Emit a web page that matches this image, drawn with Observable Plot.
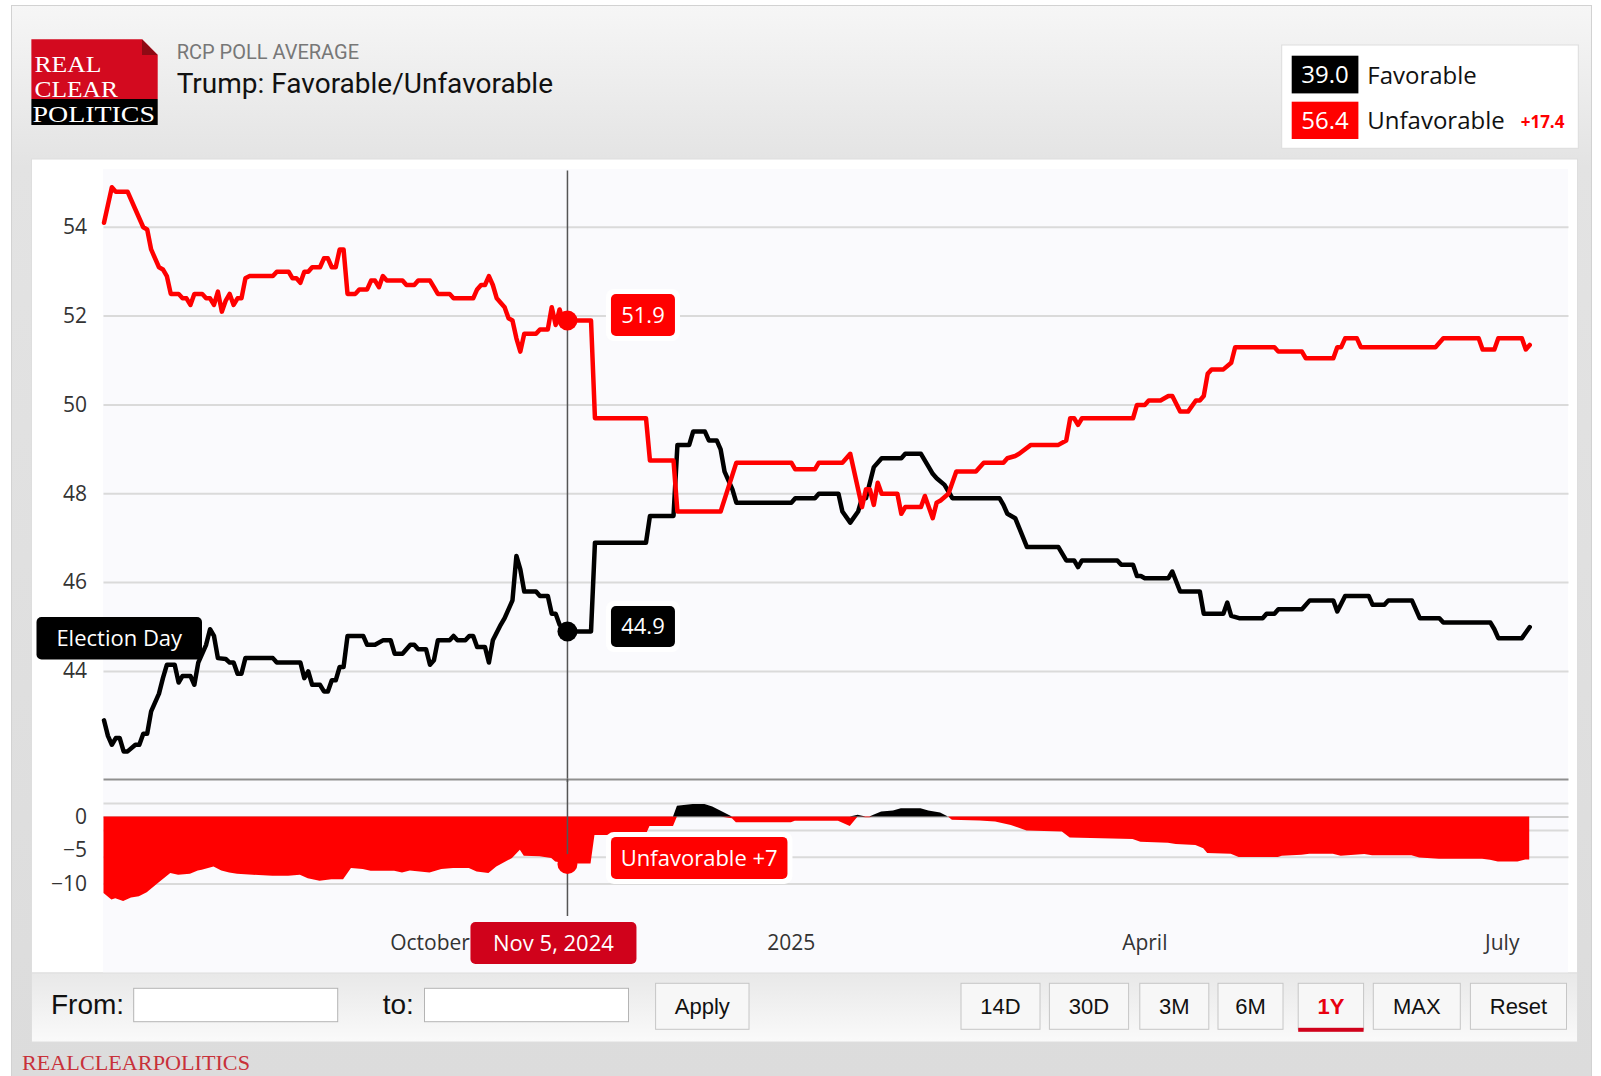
<!DOCTYPE html>
<html><head><meta charset="utf-8">
<script src="https://cdn.jsdelivr.net/npm/d3@7"></script>
<script src="https://cdn.jsdelivr.net/npm/@observablehq/plot@0.6"></script>
<style>
html,body{margin:0;padding:0;background:#fff;}
#page{position:relative;width:1601px;height:1076px;overflow:hidden;}
#page > svg{position:absolute;left:0;top:0;}
.pw{position:absolute;}
.pw svg{overflow:visible;}
</style></head><body><div id="page">
<svg id="chrome" width="1601" height="1076">
  <defs>
    <linearGradient id="gOuter" x1="0" y1="0" x2="0" y2="1">
      <stop offset="0" stop-color="#f6f6f6"/><stop offset="0.15" stop-color="#e3e3e3"/><stop offset="1" stop-color="#dcdcdc"/>
    </linearGradient>
    <linearGradient id="gBar" x1="0" y1="0" x2="0" y2="1">
      <stop offset="0" stop-color="#e8e8e8"/><stop offset="1" stop-color="#fafafa"/>
    </linearGradient>
  </defs>
  <rect x="11.5" y="5.5" width="1580" height="1075" fill="url(#gOuter)" stroke="#d2d2d2"/>
  <rect x="31.5" y="159" width="1546" height="814" fill="#fff" stroke="#dedede"/>
  <rect x="103" y="169" width="1465" height="804" fill="#fafafd"/>
  <rect x="31.5" y="973" width="1546" height="69" fill="url(#gBar)" stroke="#dedede"/>
  <!-- logo -->
  <path d="M31.4,39.3 H142 L157.7,55 V99 H31.4 Z" fill="#d30a1f"/>
  <path d="M142,39.3 L157.7,55 H142 Z" fill="#8e0a14"/>
  <rect x="31.4" y="99" width="126.3" height="26" fill="#000"/>
  <text x="34.4" y="71.7" font-family="Liberation Serif" font-size="24" fill="#fff" textLength="67" lengthAdjust="spacingAndGlyphs">REAL</text>
  <text x="34.4" y="96.7" font-family="Liberation Serif" font-size="24" fill="#fff" textLength="83.5" lengthAdjust="spacingAndGlyphs">CLEAR</text>
  <text x="32.5" y="121.7" font-family="Liberation Serif" font-size="24" fill="#fff" textLength="122.5" lengthAdjust="spacingAndGlyphs">POLITICS</text>
  <!-- header -->
  <text x="176.7" y="59.3" font-family="Roboto" font-size="20" fill="#777">RCP POLL AVERAGE</text>
  <text x="176.7" y="93.3" font-family="Roboto" font-size="28" fill="#111">Trump: Favorable/Unfavorable</text>
  <!-- legend -->
  <rect x="1281.7" y="45" width="296.6" height="103.3" fill="#fff" stroke="#dddddd"/>
  <rect x="1291.7" y="55.7" width="66.7" height="37.7" fill="#000"/>
  <text x="1325" y="83.3" text-anchor="middle" font-family="Open Sans" font-size="24" fill="#fff">39.0</text>
  <text x="1367.3" y="84" font-family="Open Sans" font-size="24" fill="#111">Favorable</text>
  <rect x="1291.7" y="101.7" width="66.7" height="37.3" fill="#ff0000"/>
  <text x="1325" y="129" text-anchor="middle" font-family="Open Sans" font-size="24" fill="#fff">56.4</text>
  <text x="1367.3" y="129" font-family="Open Sans" font-size="24" fill="#111">Unfavorable</text>
  <text x="1520.7" y="127.7" font-family="Open Sans" font-size="17" font-weight="bold" fill="#ff0000">+17.4</text>
  <!-- controls -->
  <text x="51" y="1014" font-family="Liberation Sans" font-size="28" fill="#111">From:</text>
  <rect x="133.7" y="988.3" width="204" height="33.4" fill="#fff" stroke="#b4b4b4"/>
  <text x="382.7" y="1014" font-family="Liberation Sans" font-size="28" fill="#111">to:</text>
  <rect x="424.5" y="988.3" width="204" height="33.4" fill="#fff" stroke="#b4b4b4"/>
  <g font-family="Liberation Sans" font-size="22" text-anchor="middle" fill="#111">
    <rect x="655.6" y="983.3" width="93.4" height="46" fill="#f7f7f7" stroke="#c6c6c6"/>
    <text x="702.3" y="1014">Apply</text>
    <rect x="961" y="983.3" width="79" height="46" fill="#f7f7f7" stroke="#c6c6c6"/>
    <text x="1000.5" y="1014">14D</text>
    <rect x="1049.4" y="983.3" width="79.2" height="46" fill="#f7f7f7" stroke="#c6c6c6"/>
    <text x="1089" y="1014">30D</text>
    <rect x="1139.8" y="983.3" width="69" height="46" fill="#f7f7f7" stroke="#c6c6c6"/>
    <text x="1174.3" y="1014">3M</text>
    <rect x="1218" y="983.3" width="65" height="46" fill="#f7f7f7" stroke="#c6c6c6"/>
    <text x="1250.5" y="1014">6M</text>
    <rect x="1298.2" y="983.3" width="65.4" height="46" fill="#f7f7f7" stroke="#c6c6c6"/>
    <text x="1330.9" y="1014" fill="#e8000f" font-weight="bold">1Y</text>
    <rect x="1298.2" y="1027.8" width="65.4" height="4" fill="#d0021b"/>
    <rect x="1373.3" y="983.3" width="87" height="46" fill="#f7f7f7" stroke="#c6c6c6"/>
    <text x="1416.8" y="1014">MAX</text>
    <rect x="1470.4" y="983.3" width="96.1" height="46" fill="#f7f7f7" stroke="#c6c6c6"/>
    <text x="1518.5" y="1014">Reset</text>
  </g>
  <text x="22" y="1070" font-family="Liberation Serif" font-size="22" fill="#c8313a" textLength="228" lengthAdjust="spacingAndGlyphs">REALCLEARPOLITICS</text>
</svg>
</div>
<script>
// ---- data ----
const unfavorable = [
["2024-07-10",54.1],["2024-07-12",54.9],["2024-07-13",54.8],["2024-07-16",54.8],["2024-07-18",54.4],["2024-07-20",54.0],
["2024-07-21",53.95],["2024-07-22",53.5],["2024-07-24",53.1],["2024-07-25",53.05],["2024-07-26",52.9],["2024-07-27",52.5],
["2024-07-29",52.5],["2024-07-30",52.4],["2024-07-31",52.4],["2024-08-01",52.25],["2024-08-02",52.5],["2024-08-04",52.5],
["2024-08-05",52.4],["2024-08-06",52.4],["2024-08-07",52.25],["2024-08-08",52.55],["2024-08-09",52.1],["2024-08-10",52.35],
["2024-08-11",52.5],["2024-08-12",52.25],["2024-08-13",52.4],["2024-08-14",52.4],["2024-08-15",52.85],["2024-08-16",52.9],
["2024-08-22",52.9],["2024-08-23",53.0],["2024-08-26",53.0],["2024-08-27",52.85],["2024-08-28",52.85],["2024-08-29",52.75],
["2024-08-30",53.0],["2024-08-31",53.0],["2024-09-01",53.1],["2024-09-03",53.1],["2024-09-04",53.3],["2024-09-05",53.3],
["2024-09-06",53.1],["2024-09-07",53.1],["2024-09-08",53.5],["2024-09-09",53.5],["2024-09-10",52.5],["2024-09-12",52.5],
["2024-09-13",52.6],["2024-09-15",52.6],["2024-09-16",52.8],["2024-09-17",52.8],["2024-09-18",52.65],["2024-09-19",52.9],
["2024-09-20",52.8],["2024-09-24",52.8],["2024-09-25",52.7],["2024-09-27",52.7],["2024-09-28",52.8],["2024-10-01",52.8],
["2024-10-02",52.65],["2024-10-03",52.5],["2024-10-06",52.5],["2024-10-07",52.4],["2024-10-12",52.4],["2024-10-13",52.6],
["2024-10-14",52.7],["2024-10-15",52.7],["2024-10-16",52.9],["2024-10-17",52.7],["2024-10-18",52.4],["2024-10-20",52.2],
["2024-10-21",51.95],["2024-10-22",51.9],["2024-10-23",51.5],["2024-10-24",51.2],["2024-10-25",51.6],["2024-10-28",51.6],
["2024-10-29",51.7],["2024-10-31",51.7],["2024-11-01",52.2],["2024-11-02",51.8],["2024-11-03",52.15],["2024-11-04",51.85],
["2024-11-05",51.9],["2024-11-11",51.9],["2024-11-12",49.7],["2024-11-25",49.7],["2024-11-26",48.75],["2024-12-02",48.75],
["2024-12-03",47.6],["2024-12-14",47.6],["2024-12-18",48.7],["2025-01-01",48.7],["2025-01-02",48.55],["2025-01-07",48.55],
["2025-01-08",48.7],["2025-01-14",48.7],["2025-01-16",48.9],["2025-01-19",47.7],["2025-01-20",48.1],["2025-01-21",48.1],
["2025-01-22",47.75],["2025-01-23",48.25],["2025-01-24",48.0],["2025-01-28",48.0],["2025-01-29",47.55],["2025-01-30",47.7],
["2025-02-03",47.7],["2025-02-04",47.95],["2025-02-06",47.45],["2025-02-07",47.8],["2025-02-08",47.85],["2025-02-10",48.0],
["2025-02-12",48.5],["2025-02-17",48.5],["2025-02-19",48.7],["2025-02-24",48.7],["2025-02-25",48.8],["2025-02-27",48.85],
["2025-02-28",48.9],["2025-03-03",49.1],["2025-03-10",49.1],["2025-03-12",49.2],["2025-03-13",49.7],["2025-03-14",49.7],
["2025-03-15",49.55],["2025-03-16",49.7],["2025-03-29",49.7],["2025-03-30",50.0],["2025-04-01",50.0],["2025-04-02",50.1],
["2025-04-05",50.1],["2025-04-07",50.2],["2025-04-08",50.2],["2025-04-10",49.85],["2025-04-12",49.85],["2025-04-14",50.1],
["2025-04-15",50.1],["2025-04-16",50.2],["2025-04-17",50.7],["2025-04-18",50.8],["2025-04-21",50.8],["2025-04-23",50.95],
["2025-04-24",51.3],["2025-05-04",51.3],["2025-05-05",51.2],["2025-05-11",51.2],["2025-05-12",51.05],["2025-05-19",51.05],
["2025-05-20",51.3],["2025-05-21",51.3],["2025-05-22",51.5],["2025-05-25",51.5],["2025-05-26",51.3],["2025-06-14",51.3],
["2025-06-16",51.5],["2025-06-25",51.5],["2025-06-26",51.25],["2025-06-29",51.25],["2025-06-30",51.5],["2025-07-06",51.5],
["2025-07-07",51.25],["2025-07-08",51.35]
];
const favorable = [
["2024-07-10",42.9],["2024-07-11",42.55],["2024-07-12",42.35],["2024-07-13",42.5],["2024-07-14",42.5],["2024-07-15",42.2],
["2024-07-16",42.2],["2024-07-18",42.35],["2024-07-19",42.35],["2024-07-20",42.6],["2024-07-21",42.6],["2024-07-22",43.1],
["2024-07-24",43.5],["2024-07-25",43.85],["2024-07-26",44.15],["2024-07-28",44.15],["2024-07-29",43.75],["2024-07-30",43.9],
["2024-08-01",43.9],["2024-08-02",43.7],["2024-08-03",44.2],["2024-08-05",44.6],["2024-08-06",44.95],["2024-08-07",44.8],
["2024-08-08",44.3],["2024-08-10",44.28],["2024-08-11",44.2],["2024-08-12",44.2],["2024-08-13",43.95],["2024-08-14",43.95],
["2024-08-15",44.3],["2024-08-22",44.3],["2024-08-23",44.2],["2024-08-29",44.2],["2024-08-30",43.85],["2024-08-31",44.0],
["2024-09-01",43.7],["2024-09-03",43.7],["2024-09-04",43.55],["2024-09-05",43.55],["2024-09-06",43.8],["2024-09-07",43.8],
["2024-09-08",44.1],["2024-09-09",44.1],["2024-09-10",44.8],["2024-09-14",44.8],["2024-09-15",44.6],["2024-09-17",44.6],
["2024-09-19",44.7],["2024-09-21",44.7],["2024-09-22",44.4],["2024-09-24",44.4],["2024-09-26",44.6],["2024-09-27",44.6],
["2024-09-28",44.5],["2024-09-30",44.5],["2024-10-01",44.15],["2024-10-02",44.25],["2024-10-03",44.7],["2024-10-06",44.7],
["2024-10-07",44.8],["2024-10-08",44.7],["2024-10-10",44.7],["2024-10-11",44.8],["2024-10-12",44.8],["2024-10-13",44.55],
["2024-10-15",44.55],["2024-10-16",44.2],["2024-10-17",44.7],["2024-10-19",45.05],["2024-10-20",45.2],["2024-10-22",45.6],
["2024-10-23",46.6],["2024-10-24",46.3],["2024-10-25",45.8],["2024-10-28",45.8],["2024-10-29",45.7],["2024-10-31",45.7],
["2024-11-01",45.3],["2024-11-02",45.3],["2024-11-03",45.05],["2024-11-05",44.9],["2024-11-11",44.9],["2024-11-12",46.9],
["2024-11-25",46.9],["2024-11-26",47.5],["2024-12-02",47.5],["2024-12-03",49.1],["2024-12-06",49.1],["2024-12-07",49.4],
["2024-12-10",49.4],["2024-12-11",49.2],["2024-12-13",49.2],["2024-12-14",49.0],["2024-12-15",48.5],["2024-12-17",48.1],
["2024-12-18",47.8],["2025-01-01",47.8],["2025-01-02",47.9],["2025-01-07",47.9],["2025-01-08",48.0],["2025-01-13",48.0],
["2025-01-14",47.6],["2025-01-16",47.35],["2025-01-18",47.6],["2025-01-19",47.9],["2025-01-20",47.9],["2025-01-22",48.6],
["2025-01-24",48.8],["2025-01-29",48.8],["2025-01-30",48.9],["2025-02-03",48.9],["2025-02-05",48.6],["2025-02-06",48.45],
["2025-02-07",48.35],["2025-02-09",48.2],["2025-02-11",47.9],["2025-02-23",47.9],["2025-02-24",47.75],["2025-02-25",47.55],
["2025-02-27",47.45],["2025-03-02",46.8],["2025-03-10",46.8],["2025-03-12",46.5],["2025-03-14",46.5],["2025-03-15",46.35],
["2025-03-16",46.5],["2025-03-25",46.5],["2025-03-26",46.4],["2025-03-29",46.4],["2025-03-30",46.15],["2025-03-31",46.15],
["2025-04-01",46.1],["2025-04-07",46.1],["2025-04-08",46.25],["2025-04-10",45.8],["2025-04-15",45.8],["2025-04-16",45.3],
["2025-04-21",45.3],["2025-04-22",45.55],["2025-04-23",45.25],["2025-04-25",45.2],["2025-05-01",45.2],["2025-05-02",45.3],
["2025-05-04",45.3],["2025-05-05",45.4],["2025-05-11",45.4],["2025-05-13",45.6],["2025-05-19",45.6],["2025-05-20",45.35],
["2025-05-22",45.7],["2025-05-28",45.7],["2025-05-29",45.5],["2025-06-01",45.5],["2025-06-02",45.6],["2025-06-08",45.6],
["2025-06-10",45.2],["2025-06-15",45.2],["2025-06-16",45.1],["2025-06-28",45.1],["2025-06-29",44.95],["2025-06-30",44.75],
["2025-07-06",44.75],["2025-07-08",45.0]
];
const spread = [
["2024-07-10",-11.4],["2024-07-12",-12.4],["2024-07-13",-12.2],["2024-07-15",-12.6],["2024-07-17",-12.1],["2024-07-19",-11.9],
["2024-07-21",-11.3],["2024-07-24",-9.85],["2024-07-27",-8.45],["2024-07-29",-8.7],["2024-08-01",-8.55],["2024-08-03",-8.05],
["2024-08-04",-7.95],["2024-08-07",-7.45],["2024-08-09",-8.05],["2024-08-11",-8.35],["2024-08-13",-8.55],["2024-08-17",-8.7],
["2024-08-22",-8.85],["2024-08-26",-8.85],["2024-08-29",-8.7],["2024-08-31",-9.2],["2024-09-03",-9.6],["2024-09-06",-9.35],
["2024-09-09",-9.35],["2024-09-11",-7.7],["2024-09-14",-7.85],["2024-09-16",-8.1],["2024-09-22",-8.1],["2024-09-24",-8.35],
["2024-09-26",-8.05],["2024-10-01",-8.35],["2024-10-04",-7.85],["2024-10-07",-7.7],["2024-10-11",-7.7],["2024-10-13",-8.2],
["2024-10-16",-8.45],["2024-10-18",-7.45],["2024-10-22",-6.2],["2024-10-24",-4.95],["2024-10-25",-5.85],["2024-10-29",-5.95],
["2024-11-01",-6.2],["2024-11-02",-6.7],["2024-11-05",-7.0],["2024-11-11",-7.0],["2024-11-12",-2.75],["2024-11-25",-2.75],
["2024-11-26",-1.4],["2024-12-02",-1.4],["2024-12-03",1.6],["2024-12-07",1.85],["2024-12-10",1.85],["2024-12-12",1.5],
["2024-12-14",0.9],["2024-12-17",-0.25],["2024-12-18",-0.85],["2025-01-01",-0.85],["2025-01-02",-0.65],["2025-01-13",-0.65],
["2025-01-16",-1.4],["2025-01-18",0.25],["2025-01-20",-0.1],["2025-01-21",-0.1],["2025-01-22",0.25],["2025-01-24",0.75],
["2025-01-27",0.9],["2025-01-29",1.25],["2025-02-03",1.25],["2025-02-05",0.9],["2025-02-08",0.6],["2025-02-10",0],
["2025-02-11",-0.5],["2025-02-18",-0.6],["2025-02-22",-0.75],["2025-02-26",-1.25],["2025-03-02",-2.1],["2025-03-11",-2.25],
["2025-03-13",-3.15],["2025-03-29",-3.35],["2025-03-31",-3.75],["2025-04-07",-3.9],["2025-04-09",-4.1],["2025-04-14",-4.25],
["2025-04-16",-4.75],["2025-04-17",-5.45],["2025-04-23",-5.55],["2025-04-25",-6.05],["2025-05-05",-6.05],["2025-05-06",-5.85],
["2025-05-11",-5.7],["2025-05-13",-5.55],["2025-05-19",-5.55],["2025-05-21",-5.85],["2025-05-27",-5.6],["2025-05-29",-5.8],
["2025-06-08",-5.8],["2025-06-10",-6.1],["2025-06-15",-6.3],["2025-06-26",-6.3],["2025-06-28",-6.45],["2025-06-30",-6.7],
["2025-07-05",-6.7],["2025-07-07",-6.4],["2025-07-08",-6.4]
];
const electionDate = "2024-11-05";
const electionFav = 44.9, electionUnf = 51.9, electionSpread = -7;
const yTicks = [44, 46, 48, 50, 52, 54];
const spreadGrid = [2, -2, -6, -10];
const spreadTicks = [0, -5, -10];
const xTicks = ["2024-10-01", "2025-01-01", "2025-04-01", "2025-07-01"];
const xTickLabels = ["October", "2025", "April", "July"];
const xDomain = ["2024-07-10", "2025-07-18"];
const topDomain = [41.5, 55.3];
const spreadDomain = [-13, 5.6];

// ---- chart ----
const parse = d3.utcParse("%Y-%m-%d");
const X = d => parse(d[0]), Y = d => d[1];
const eDate = parse(electionDate);
const RED = "#ff0000", DARKRED = "#d0021b";
const page = document.getElementById("page");
const labelMap = new Map(xTicks.map((t, i) => [+parse(t), xTickLabels[i]]));
const common = {
  width: 1546, marginLeft: 71.5, marginRight: 9.5,
  style: {background: "transparent", fontFamily: "Open Sans", fontSize: "21px", color: "#333", overflow: "visible"}
};
const xScale = {type: "utc", domain: xDomain.map(parse), axis: null};

function place(svg, left, top) {
  const div = document.createElement("div");
  div.className = "pw"; div.style.left = left + "px"; div.style.top = top + "px";
  div.appendChild(svg); page.appendChild(div);
}
function scaleFn(chart, name) {
  const s = chart.scale(name);
  if (s.apply) return v => s.apply(v);
  const sc = (name === "x" ? d3.scaleUtc() : d3.scaleLinear()).domain(s.domain).range(s.range);
  return v => sc(v);
}
function badge(svg, x, y, w, h, text, fill, halo) {
  const g = d3.select(svg).append("g");
  if (halo) g.append("rect").attr("x", x - 5).attr("y", y - 5).attr("width", w + 10).attr("height", h + 10).attr("rx", 8).attr("fill", "#fff");
  g.append("rect").attr("x", x).attr("y", y).attr("width", w).attr("height", h).attr("rx", 5).attr("fill", fill);
  g.append("text").attr("x", x + w / 2).attr("y", y + h / 2).attr("dy", "0.36em").attr("text-anchor", "middle")
    .attr("fill", "#fff").attr("font-family", "Open Sans").attr("font-size", 22).text(text);
}

const topChart = Plot.plot({
  ...common, height: 622, marginTop: 9, marginBottom: 0,
  x: xScale,
  y: {domain: topDomain, axis: null},
  marks: [
    Plot.gridY(yTicks, {stroke: "#dadada", strokeOpacity: 1, strokeWidth: 2}),
    Plot.axisY(yTicks, {tickSize: 0, tickPadding: 17, label: null}),
    Plot.ruleX([eDate], {stroke: "#555", strokeWidth: 1.5, insetTop: 1.5}),
    Plot.line(favorable, {x: X, y: Y, stroke: "#000", strokeWidth: 4.5}),
    Plot.line(unfavorable, {x: X, y: Y, stroke: RED, strokeWidth: 4.5}),
    Plot.dot([[electionDate, electionUnf]], {x: X, y: Y, r: 10, fill: RED}),
    Plot.dot([[electionDate, electionFav]], {x: X, y: Y, r: 10, fill: "#000"})
  ]
});
place(topChart, 31.5, 160);
{
  const fx = scaleFn(topChart, "x"), fy = scaleFn(topChart, "y");
  const ex = fx(eDate);
  badge(topChart, ex + 44, fy(electionUnf) - 26, 64, 42, electionUnf.toFixed(1), RED, true);
  badge(topChart, ex + 44, fy(electionFav) - 25, 64, 41, electionFav.toFixed(1), "#000", true);
  badge(topChart, common.marginLeft - 67, fy(electionFav) + 7 - 21, 165.5, 42.5, "Election Day", "#000", false);
}

const botChart = Plot.plot({
  ...common, height: 194, marginTop: 0, marginBottom: 69.4,
  x: xScale,
  y: {domain: spreadDomain, axis: null},
  marks: [
    Plot.gridY(spreadGrid, {stroke: "#dadada", strokeOpacity: 1, strokeWidth: 2}),
    Plot.ruleY([0], {stroke: "#cfcfcf", strokeWidth: 2}),
    Plot.axisY(spreadTicks, {tickSize: 0, tickPadding: 17, label: null}),
    Plot.areaY(spread, {x: X, y: d => Math.min(0, d[1]), fill: RED}),
    Plot.areaY(spread, {x: X, y: d => Math.max(0, d[1]), fill: "#000"}),
    Plot.ruleY([spreadDomain[1]], {stroke: "#8f8f8f", strokeWidth: 2}),
    Plot.axisX(xTicks.map(parse), {tickSize: 0, tickPadding: 31, label: null, tickFormat: d => labelMap.get(+d)}),
    Plot.ruleX([eDate], {stroke: "#555", strokeWidth: 1.5, insetBottom: -12.4}),
    Plot.dot([[electionDate, electionSpread]], {x: X, y: Y, r: 10, fill: RED})
  ]
});
place(botChart, 31.5, 779);
{
  const fx = scaleFn(botChart, "x"), fy = scaleFn(botChart, "y");
  const ex = fx(eDate);
  badge(botChart, ex + 44, fy(electionSpread) - 26.5, 176.5, 42, "Unfavorable +" + Math.abs(electionSpread), RED, true);
  const bottom = fy(spreadDomain[0]);
  badge(botChart, ex - 13.5 - 83, bottom + 18.4, 166, 42, d3.utcFormat("%b %-d, %Y")(eDate), DARKRED, false);
}
</script>
</body></html>
